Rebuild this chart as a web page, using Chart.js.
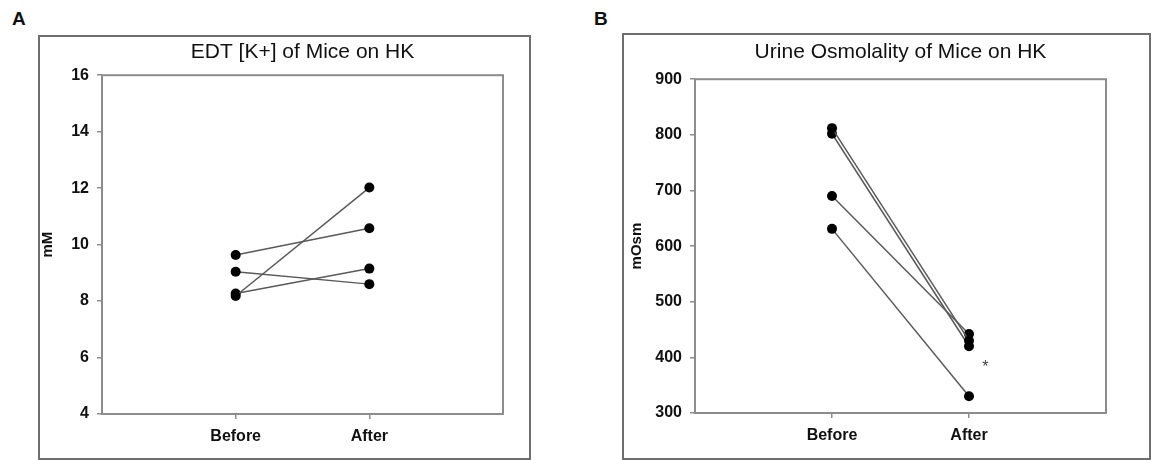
<!DOCTYPE html>
<html>
<head>
<meta charset="utf-8">
<script src="https://cdn.jsdelivr.net/npm/chart.js@4.4.0/dist/chart.umd.min.js"></script>
<style>
  body { margin: 0; background: #fff; }
  #wrap { position: relative; width: 1152px; height: 460px; overflow: hidden; font-family: 'Liberation Sans', Arial, sans-serif; }
  .panel { position: absolute; border: 2px solid #6e6e6e; }
  .letter { position: absolute; font-weight: bold; font-size: 19px; color: #111; }
</style>
</head>
<body>
<div id="wrap">
  <div class="letter" style="left:12px; top:8px;">A</div>
  <div class="letter" style="left:594px; top:8px;">B</div>
  <div class="panel" style="left:38px; top:35px; width:489px; height:421px;">
    <canvas id="chartA" width="489" height="421"></canvas>
  </div>
  <div class="panel" style="left:622px; top:33px; width:525px; height:423px;">
    <canvas id="chartB" width="525" height="423"></canvas>
  </div>
</div>
<script>
// categories
const categories = ['Before', 'After'];

// A: EDT [K+] (mM), one value per mouse
const kBefore = [9.63, 9.04, 8.18, 8.27];
const kAfter = [10.58, 8.6, 12.02, 9.15];

// B: urine osmolality (mOsm), one value per mouse
const osmBefore = [812, 802, 690, 631];
const osmAfter = [430, 420, 442, 330];

// significance mark next to the After group in B
const starNote = { x: 2.12, y: 387, text: '*' };

const FONT = "'Liberation Sans', Arial, sans-serif";

/* 플롯 영역 테두리 */
const frame = {
    id: 'frame',
    beforeDatasetsDraw(chart) {
        const a = chart.chartArea;
        const ctx = chart.ctx;
        ctx.save();
        ctx.strokeStyle = '#8c8c8c';
        ctx.lineWidth = 2;
        ctx.strokeRect(a.left, a.top, a.right - a.left, a.bottom - a.top);
        ctx.restore();
    }
};

/* 별표 */
const star = {
    id: 'star',
    afterDatasetsDraw(chart, args, opts) {
        if (!opts.note) return;
        const ctx = chart.ctx;
        ctx.save();
        ctx.fillStyle = '#444';
        ctx.font = '16px ' + FONT;
        ctx.textAlign = 'center';
        ctx.textBaseline = 'middle';
        ctx.fillText(opts.note.text,
            chart.scales.x.getPixelForValue(opts.note.x),
            chart.scales.y.getPixelForValue(opts.note.y) + 3);
        ctx.restore();
    }
};

function makeSets(before, after) {
    let sets = [];
    for (let i = 0; i < before.length; i++) {
        sets.push({
            data: [{ x: 1, y: before[i] }, { x: 2, y: after[i] }],
            borderColor: '#5a5a5a',
            borderWidth: 1.5,
            pointRadius: 5,
            pointBackgroundColor: '#000',
            pointBorderColor: '#000',
            pointBorderWidth: 0,
            showLine: true
        });
    }
    return sets;
}

function makeChart(id, cfg) {
    let ctx = document.getElementById(id).getContext('2d');
    return new Chart(ctx, {
        type: 'line',
        data: { datasets: makeSets(cfg.before, cfg.after) },
        options: {
            responsive: false,
            animation: false,
            layout: { padding: { left: 0, right: cfg.padRight, top: 0, bottom: 0 } },
            plugins: {
                legend: { display: false },
                tooltip: { enabled: false },
                title: {
                    display: true,
                    text: cfg.title,
                    fullSize: false,
                    color: '#111',
                    font: { family: FONT, size: 21, weight: 'normal', lineHeight: 1.2 },
                    padding: { top: cfg.titleTop, bottom: cfg.titleBottom }
                },
                star: { note: cfg.note }
            },
            scales: {
                x: {
                    type: 'linear',
                    min: 0,
                    max: 3,
                    afterBuildTicks: function (scale) {
                        scale.ticks = categories.map(function (c, i) { return { value: i + 1 }; });
                    },
                    afterFit: function (scale) { scale.height = cfg.xHeight; },
                    ticks: {
                        padding: 8,
                        color: '#111',
                        font: { family: FONT, size: 16, weight: 'bold' },
                        callback: function (v) { return categories[v - 1]; }
                    },
                    grid: { drawOnChartArea: false, drawTicks: true, tickLength: 5, color: '#8c8c8c', lineWidth: 1.5 },
                    border: { display: false }
                },
                y: {
                    min: cfg.yMin,
                    max: cfg.yMax,
                    afterFit: function (scale) { scale.width = cfg.yWidth; },
                    ticks: {
                        stepSize: cfg.yStep,
                        padding: 8,
                        color: '#111',
                        font: { family: FONT, size: 16, weight: 'bold' }
                    },
                    grid: { drawOnChartArea: false, drawTicks: true, tickLength: 5, color: '#8c8c8c', lineWidth: 1.5 },
                    border: { display: false },
                    title: {
                        display: true,
                        text: cfg.yTitle,
                        color: '#111',
                        font: { family: FONT, size: 15, weight: 'bold', lineHeight: 1 },
                        padding: { top: cfg.yTitlePad, bottom: 0 }
                    }
                }
            }
        },
        plugins: [frame, star]
    });
}

makeChart('chartA', {
    before: kBefore, after: kAfter,
    title: 'EDT [K+] of Mice on HK',
    yTitle: 'mM',
    yMin: 4, yMax: 16, yStep: 2,
    padRight: 26, titleTop: 3, titleBottom: 10,
    xHeight: 44, yWidth: 62, yTitlePad: 0.5,
    note: null
});

makeChart('chartB', {
    before: osmBefore, after: osmAfter,
    title: 'Urine Osmolality of Mice on HK',
    yTitle: 'mOsm',
    yMin: 300, yMax: 900, yStep: 100,
    padRight: 43, titleTop: 5, titleBottom: 14,
    xHeight: 45, yWidth: 71, yTitlePad: 5,
    note: starNote
});
</script>
</body>
</html>
